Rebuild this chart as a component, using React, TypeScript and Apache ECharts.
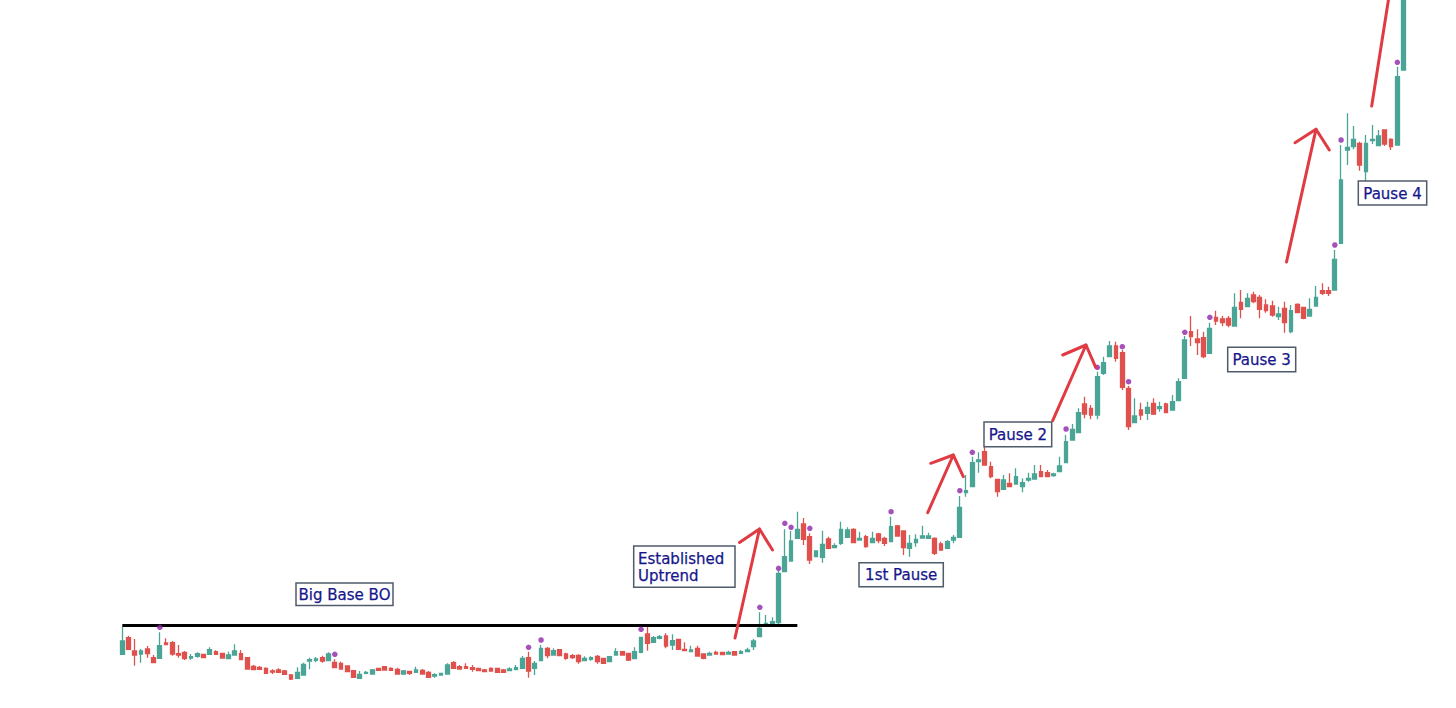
import React, { useEffect, useRef } from "react";
import * as echarts from "echarts";

// Prices (chart units) per session
const opens = [
  53.7, 70.3, 57, 54, 59, 50.3, 49.7, 65, 65.3, 54.3,
  55.7, 50, 51.7, 53.7, 53.7, 56.3, 54.7, 49.3, 53, 54.3,
  50.3, 41.7, 40.7, 39.7, 37, 38, 37, 33, 29.7, 33,
  47, 47.7, 50.3, 47.3, 45.7, 44.7, 42, 37.3, 29.7, 34.7,
  34, 39.7, 41.3, 39.7, 38.7, 34, 36.7, 35.7, 37.7, 35.7,
  32, 33, 34, 45.3, 41.3, 41.3, 40.3, 39.7, 38, 39.7,
  39.7, 38, 37.3, 38.3, 39.7, 50.3, 39.7, 47.3, 59.7, 53,
  58.3, 54, 52.3, 52.7, 47.3, 48.7, 51.7, 49.7, 46.3, 53,
  56.3, 54.7, 49.3, 55.7, 74, 65.7, 69.7, 72, 63, 68.7,
  58.7, 56.3, 59.7, 54, 53, 55.7, 55.7, 54, 56.3, 54.7,
  56.3, 61.3, 71.3, 83, 84.7, 85.3, 136.3, 147, 169.7, 184,
  171.3, 151.3, 150.7, 169, 160.3, 164.7, 170.7, 178.7, 168, 171.3,
  165.3, 174, 169.7, 166.3, 182, 177, 159.7, 165.3, 170, 169.7,
  169.7, 164, 159.7, 168, 170.7, 215.3, 221.3, 246.3, 256.3, 241.3,
  228.7, 218.7, 224.7, 224, 221.3, 228, 229, 236.3, 235.3, 232.3,
  236.3, 245.3, 268, 275.3, 304, 299.7, 293, 334.7, 351.3, 362,
  355.3, 319.7, 285.3, 298, 294.7, 304.7, 299.3, 304, 298, 307.3,
  329.7, 376.3, 369, 370.3, 354.7, 390.7, 389, 389.7, 382, 405.7,
  401.3, 413, 410.7, 403, 402, 391.3, 399.7, 376.3, 403.7, 400.7,
  392, 402, 417.3, 417.3, 418, 464.7, 558, 561.3, 564.7, 536.3,
  567.3, 562.3, 578, 568.7, 563, 638,
];
const closes = [
  67, 58.7, 53, 57, 54.3, 45.3, 62.3, 63.3, 54, 53,
  49.3, 51.3, 54.3, 50.3, 58.3, 53.7, 50, 53, 57, 48.3,
  39, 38.3, 38.7, 34.7, 36, 35.7, 33.7, 29, 35.7, 43.7,
  48.3, 49, 47, 54, 40.3, 39, 36.3, 30.7, 33.7, 35.7,
  38, 37.7, 38, 37.7, 34, 37, 34.7, 38, 34, 30.7,
  33.3, 34.7, 43, 39.7, 39, 39.7, 38.7, 37.3, 36.3, 37,
  35.7, 35.7, 39, 40.3, 49.7, 37, 44.7, 59.7, 52.3, 57.3,
  52.3, 49.7, 50.3, 46.3, 49.7, 50.3, 46.3, 44.7, 51.3, 56.3,
  53, 48, 56.3, 70.7, 64.7, 70.3, 71.3, 62, 67.3, 58.7,
  57.3, 58, 52, 49.7, 54.7, 54, 53.3, 55.7, 53, 56.3,
  58, 67, 79.7, 84.7, 86.3, 134.7, 151.3, 167, 178.7, 168.7,
  148, 157, 163.7, 159.7, 162.3, 178.7, 178, 165.3, 169.7, 161.3,
  169.7, 167.3, 164.7, 181.3, 172, 160.3, 164.7, 168.7, 172, 172,
  154.7, 158, 166.3, 170.7, 200.7, 217.3, 245.3, 248, 243, 231.3,
  216.3, 228, 221.3, 231.3, 225.3, 229.7, 234, 231.3, 231.3, 234,
  242, 266.3, 278.7, 295.3, 294, 293, 331.3, 345.3, 362, 349.7,
  320.7, 281.3, 292, 293, 300.7, 294, 301.3, 295.3, 306.3, 326.3,
  368, 371.3, 365.3, 351.3, 379.7, 387, 385.3, 383, 400.7, 398.7,
  409.7, 406.3, 398.7, 397.3, 393, 394, 385.3, 397.3, 395.3, 389.7,
  398.7, 410.7, 414.7, 414.7, 448.7, 528, 560.7, 568.7, 543, 564.7,
  568.7, 572, 564, 561.3, 631.3, 738,
];
const lows = [
  53.5, 58.7, 42.3, 45.3, 50.3, 45.3, 49.7, 63.3, 52.3, 50.3,
  48, 48.3, 50.3, 50.3, 53, 53.7, 49.3, 49.3, 53, 48.3,
  38.3, 37.7, 38.7, 34, 34, 35, 33, 28, 29.7, 32.3,
  38.7, 45.7, 45.3, 47.3, 39.7, 39, 36.3, 30, 29.7, 33.7,
  34, 37.7, 38, 37.7, 34, 34, 33, 35.7, 34, 30.7,
  30.3, 33, 34, 39.7, 39, 39, 36.3, 37.3, 36.3, 36.3,
  35.7, 35.7, 37.3, 38.3, 39.7, 30.3, 33, 47.3, 49.7, 53,
  52.3, 48.3, 49, 44.3, 47.3, 47.3, 44.3, 44.7, 46.3, 53,
  53, 47, 49.3, 54.7, 57.3, 65.7, 68.7, 59.7, 58, 58,
  57.3, 56.3, 51.3, 48.7, 53, 54, 53.3, 54, 53, 54,
  56.3, 58, 71.3, 81.3, 82.3, 83, 136, 147, 169.7, 163,
  144, 150.7, 145.3, 158.7, 159.7, 163, 170.7, 164.7, 168, 160.3,
  165.3, 164.7, 162, 166.3, 171.3, 153, 151.3, 161.3, 170, 169.7,
  153, 157.3, 159.7, 164.7, 170.7, 211.3, 221.3, 235.3, 243, 229.7,
  211.3, 218.7, 221.3, 224, 215.7, 226.3, 229, 231.3, 231.3, 231.3,
  236.3, 245.3, 268, 275.3, 289.7, 288.7, 288.7, 333, 351.3, 346.3,
  318, 278, 285.3, 288, 288, 293, 296.3, 294.7, 298, 307.3,
  329.7, 362, 353, 349.7, 354.7, 383, 382, 380.7, 382, 389.7,
  401.3, 404.7, 389.7, 395.3, 391.3, 388, 375.3, 374.7, 394.7, 388.7,
  392, 402, 413, 412, 418, 464.7, 543, 558.7, 537.3, 526.3,
  564, 562.3, 562, 558, 563, 638,
];
const highs = [
  81.3, 72.3, 69, 59, 62, 53, 75.7, 69.7, 67, 63,
  57, 54, 55.7, 54.3, 60.7, 57.7, 54.7, 56.3, 63.7, 58,
  51, 43, 42, 40.7, 38.7, 39.7, 38, 34, 40.7, 45.3,
  50.3, 51, 52.3, 55.7, 48.7, 46.3, 42, 38, 37, 37,
  39, 40.3, 41.3, 40.7, 40.3, 38, 37.3, 41.3, 39, 37,
  34.7, 34.7, 44.7, 47, 43, 44.7, 43, 40.3, 39, 40.7,
  40, 39, 40.7, 43, 52, 56.3, 47, 63, 61, 59.7,
  58.3, 55.3, 54, 53.7, 51.7, 51.7, 53, 49.7, 51.3, 59.7,
  56.3, 55.3, 60.7, 71.3, 81.3, 72, 73, 74.7, 73.7, 68.7,
  65.7, 62.3, 62.3, 54, 56.3, 57.3, 56.3, 57.3, 56.3, 58,
  60.3, 69, 95.7, 93, 90.7, 137, 178.7, 177, 196.3, 190,
  174.7, 157, 177.3, 171.3, 164.7, 186.3, 180.7, 179.7, 176.3, 173,
  176.3, 175.3, 171.3, 191.3, 183, 177, 173, 173.7, 182.3, 175.3,
  170.7, 166.3, 168, 173, 212, 233, 251.3, 255.7, 263, 246.3,
  228.7, 233, 234.7, 239.7, 229.7, 235.3, 243, 243, 238, 235.3,
  251.3, 273, 284, 299.7, 311.3, 303, 336.3, 351.3, 367, 366.3,
  358, 322, 309.7, 305.3, 306.3, 309.7, 306.3, 305.3, 313, 329.7,
  372, 392, 378.7, 376.3, 385.3, 397.3, 392, 392, 414.7, 418,
  414.7, 416.3, 413, 408.7, 407.3, 401.3, 406.3, 403, 404.7, 401.3,
  409.7, 422, 424.7, 421.3, 458, 563, 594.7, 582, 566.3, 573,
  583, 578, 578, 569.7, 641.3, 748,
];

// Purple signal dots: session index and level
const dotIndex = [6, 34, 65, 67, 83, 102, 105, 106, 107, 110, 123, 134, 136, 151, 156, 160, 161, 170, 174, 194, 195, 204];
const dotValue = [80.7, 53.7, 60.7, 68, 78.7, 100.7, 139.7, 184.7, 180.7, 179.7, 196.3, 217.3, 255.7, 279, 340.7, 361.3, 326.3, 375.7, 390.7, 463, 568, 645.7];

// Base breakout level, drawn from first session to session 108
const baseLevel = 82.3;
const baseStart = 0;
const baseEnd = 108;

const categories = opens.map((_, i) => `Day ${i + 1}`);

const UP = "#4aa596";
const DOWN = "#e0504d";
const DOT = "#8e24aa";
const ARROW = "#e03a43";
const BOX_STROKE = "#4f5b6b";
const BOX_TEXT = "#16168a";
const FONT = '15px "DejaVu Sans", Verdana, sans-serif';

type Box = { text: string; x: number; y: number; w: number; h: number; left?: boolean };
const boxes: Box[] = [
  { text: "Big Base BO", x: 296, y: 583, w: 97, h: 22.5 },
  { text: "Established\nUptrend", x: 633.7, y: 546, w: 101.3, h: 41.3, left: true },
  { text: "1st Pause", x: 859, y: 562.7, w: 84.3, h: 24 },
  { text: "Pause 2", x: 984, y: 422, w: 67.7, h: 24.7 },
  { text: "Pause 3", x: 1227.7, y: 347.3, w: 68, h: 24.4 },
  { text: "Pause 4", x: 1358.3, y: 181, w: 68.4, h: 24 },
];

type Arrow = { shaft: number[][]; head?: number[][] };
const arrows: Arrow[] = [
  { shaft: [[735, 638], [759.5, 529]], head: [[739.5, 542.5], [759.5, 529], [772.5, 550]] },
  { shaft: [[927.7, 512.7], [953.3, 455]], head: [[930.7, 463.3], [953.3, 455], [963.3, 476.7]] },
  { shaft: [[1052.7, 420.7], [1086, 345]], head: [[1062.7, 355], [1086, 345], [1095.7, 367.3]] },
  { shaft: [[1286.5, 262], [1316, 129.3]], head: [[1295, 142.7], [1316, 129.3], [1329.3, 150]] },
  { shaft: [[1371.7, 106], [1390, -10]] },
];

export default function App() {
  const ref = useRef<HTMLDivElement>(null);
  useEffect(() => {
    if (!ref.current) return;
    document.body.style.margin = "0";
    const chart = echarts.init(ref.current, null, { renderer: "svg" });
    const candles = opens.map((o, i) => [o, closes[i], lows[i], highs[i]]);

    const graphic: any[] = [];
    arrows.forEach((a) => {
      graphic.push({
        type: "polyline",
        shape: { points: a.shaft },
        style: { stroke: ARROW, lineWidth: 3, fill: null, lineCap: "round", lineJoin: "round" },
        z: 50,
      });
      if (a.head) {
        graphic.push({
          type: "polyline",
          shape: { points: a.head },
          style: { stroke: ARROW, lineWidth: 3, fill: null, lineCap: "round", lineJoin: "round" },
          z: 50,
        });
      }
    });
    boxes.forEach((b) => {
      graphic.push({
        type: "rect",
        shape: { x: b.x, y: b.y, width: b.w, height: b.h },
        style: { fill: "#ffffff", stroke: BOX_STROKE, lineWidth: 1.5 },
        z: 60,
      });
      graphic.push({
        type: "text",
        x: b.left ? b.x + 4.3 : b.x + b.w / 2,
        y: b.y + b.h / 2 + 0.5,
        style: {
          text: b.text,
          fill: BOX_TEXT,
          stroke: BOX_TEXT,
          lineWidth: 0.25,
          font: FONT,
          lineHeight: 17,
          align: b.left ? "left" : "center",
          verticalAlign: "middle",
          textAlign: b.left ? "left" : "center",
          textVerticalAlign: "middle",
        },
        z: 61,
      });
    });

    chart.setOption({
      animation: false,
      backgroundColor: "#ffffff",
      grid: { left: 119.2, right: 49.3, top: 0, bottom: 0 },
      xAxis: { type: "category", data: categories, show: false, boundaryGap: true },
      yAxis: { type: "value", min: 0, max: 708, show: false },
      tooltip: { show: false },
      series: [
        {
          type: "candlestick",
          data: candles,
          barWidth: 4.2,
          clip: true,
          itemStyle: { color: UP, color0: DOWN, borderColor: UP, borderColor0: DOWN, borderWidth: 1.3 },
          markLine: {
            silent: true,
            symbol: ["none", "none"],
            label: { show: false },
            lineStyle: { color: "#000000", width: 3, type: "solid" },
            data: [[{ coord: [categories[baseStart], baseLevel] }, { coord: [categories[baseEnd], baseLevel] }]],
          },
        },
        {
          type: "scatter",
          data: dotIndex.map((d, i) => [d, dotValue[i]]),
          symbolSize: 5.5,
          itemStyle: { color: DOT },
          z: 5,
        },
      ],
      graphic,
    });
    return () => chart.dispose();
  }, []);
  return <div ref={ref} style={{ position: "relative", width: 1456, height: 708 }} />;
}
